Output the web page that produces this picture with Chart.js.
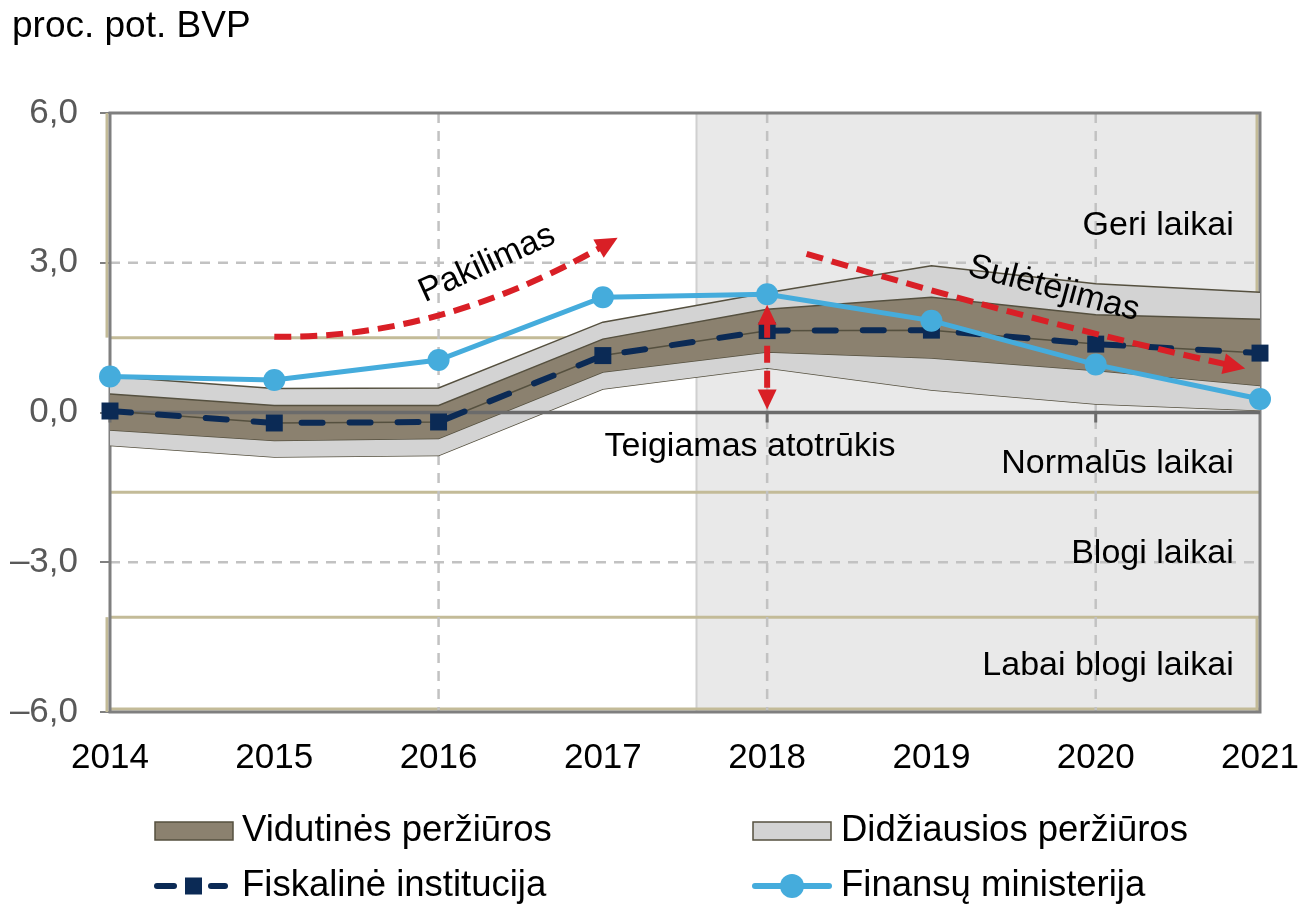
<!DOCTYPE html>
<html><head><meta charset="utf-8">
<script src="https://cdn.jsdelivr.net/npm/chart.js@4/dist/chart.umd.min.js"></script>
<style>html,body{margin:0;padding:0;background:#fff;} canvas{display:block;}</style>
</head><body>
<canvas id="c" width="1299" height="906"></canvas>
<script>
// ---- data ----
const years = [2014, 2015, 2016, 2017, 2018, 2019, 2020, 2021];
const finansuMinisterija   = [0.72, 0.65, 1.05, 2.31, 2.37, 1.84, 0.96, 0.27];
const fiskalineInstitucija = [0.03, -0.21, -0.19, 1.14, 1.64, 1.65, 1.37, 1.19];
const vidutinesVirsus      = [0.37, 0.14, 0.14, 1.47, 2.07, 2.31, 1.96, 1.87];
const vidutinesApacia      = [-0.35, -0.56, -0.52, 0.81, 1.21, 1.09, 0.84, 0.54];
const didziausiosVirsus    = [0.72, 0.48, 0.49, 1.81, 2.40, 2.94, 2.58, 2.41];
const didziausiosApacia    = [-0.66, -0.89, -0.86, 0.47, 0.89, 0.45, 0.17, 0.04];
const yTicks = [-6, -3, 0, 3, 6];
const dashedGridY = [-3, 3];
const dashedGridYears = [2016, 2018, 2020];
const zeroTickYears = [2014, 2016, 2018, 2020];
const zoneBounds = [1.5, -1.6, -4.1];
const forecastStart = 2017.57;
// annotations in data units
const risePath = [[2015.0, 1.52], [2016.0, 1.46], [2017.09, 3.5]];
const slowPath = [[2018.24, 3.18], [2019.57, 1.85], [2020.91, 0.88]];
const gapArrow = {x: 2018, from: 2.16, to: 0.06};
const notes = [
  {text: 'Geri laikai', x: 2020.84, y: 3.74, align: 'right', rot: 0},
  {text: 'Normalūs laikai', x: 2020.84, y: -1.02, align: 'right', rot: 0},
  {text: 'Blogi laikai', x: 2020.84, y: -2.82, align: 'right', rot: 0},
  {text: 'Labai blogi laikai', x: 2020.84, y: -5.08, align: 'right', rot: 0},
  {text: 'Teigiamas atotrūkis', x: 2017.01, y: -0.68, align: 'left', rot: 0},
  {text: 'Pakilimas', x: 2016.295, y: 2.98, align: 'center', rot: -24.5},
  {text: 'Sulėtėjimas', x: 2019.745, y: 2.48, align: 'center', rot: 15}
];
const title = 'proc. pot. BVP';

// ---- style ----
const FONT = '"Liberation Sans", Arial, sans-serif';
const RED = '#d91f26';
const NAVY = '#0b2a55';
const BLUE = '#45acdc';
const BROWN = '#8b816f';
const LGRAY = '#d3d3d3';
const EDGE = '#55503f';

const pts = a => years.map((x, i) => ({x, y: a[i]}));

const datasets = [
  {label: 'Finansų ministerija', data: pts(finansuMinisterija), borderColor: BLUE, backgroundColor: BLUE,
   borderWidth: 5, pointRadius: 11, pointHoverRadius: 11, pointBorderWidth: 0, clip: false, fill: false},
  {label: 'Fiskalinė institucija', data: pts(fiskalineInstitucija), borderColor: NAVY, backgroundColor: NAVY,
   borderWidth: 6, borderDash: [21, 27], borderCapStyle: 'round', pointStyle: 'rect', pointRadius: 12,
   pointHoverRadius: 12, pointBorderWidth: 0, clip: false, fill: false},
  {label: 'mediana', data: pts(fiskalineInstitucija), borderColor: EDGE, borderWidth: 1.5, pointRadius: 0, fill: false},
  {label: 'nulis', data: [{x: years[0], y: 0}, {x: years[years.length - 1], y: 0}], borderColor: '#6b6b6b',
   borderWidth: 3.5, pointRadius: 0, fill: false},
  {label: 'Vidutinės peržiūros', data: pts(vidutinesVirsus), borderColor: EDGE, borderWidth: 1.5, pointRadius: 0,
   backgroundColor: BROWN, fill: 5},
  {label: 'vid-apacia', data: pts(vidutinesApacia), borderColor: EDGE, borderWidth: 1.5, pointRadius: 0, fill: false},
  {label: 'Didžiausios peržiūros', data: pts(didziausiosVirsus), borderColor: EDGE, borderWidth: 1.5, pointRadius: 0,
   backgroundColor: LGRAY, fill: 7},
  {label: 'did-apacia', data: pts(didziausiosApacia), borderColor: EDGE, borderWidth: 1.5, pointRadius: 0, fill: false}
];

function line(ctx, x1, y1, x2, y2) { ctx.beginPath(); ctx.moveTo(x1, y1); ctx.lineTo(x2, y2); ctx.stroke(); }
function head(ctx, tip, ang, L, W) {
  const c = Math.cos(ang), s = Math.sin(ang);
  ctx.beginPath();
  ctx.moveTo(tip.x, tip.y);
  ctx.lineTo(tip.x - L * c + W / 2 * s, tip.y - L * s - W / 2 * c);
  ctx.lineTo(tip.x - L * c - W / 2 * s, tip.y - L * s + W / 2 * c);
  ctx.closePath(); ctx.fill();
}

const deco = {
  id: 'deco',
  beforeDatasetsDraw(chart) {
    const {ctx, chartArea: a, scales: {x, y}} = chart;
    ctx.save();
    const fx = x.getPixelForValue(forecastStart);
    ctx.fillStyle = '#e9e9e9';
    ctx.fillRect(fx, a.top, a.right - fx, a.bottom - a.top);
    ctx.strokeStyle = '#d0d0d0'; ctx.lineWidth = 2;
    line(ctx, fx, a.top, fx, a.bottom);
    // zone lines
    ctx.strokeStyle = '#c3bb98'; ctx.lineWidth = 3;
    zoneBounds.forEach(v => { const py = y.getPixelForValue(v); line(ctx, a.left, py, a.right, py); });
    const yT = y.getPixelForValue(zoneBounds[0]);
    const yB = y.getPixelForValue(zoneBounds[2]);
    line(ctx, a.left - 3, a.top, a.left - 3, yT);
    line(ctx, a.left - 3, yB, a.left - 3, a.bottom);
    line(ctx, a.right - 3, a.top, a.right - 3, yT);
    line(ctx, a.right - 3, yB, a.right - 3, a.bottom);
    line(ctx, a.left, a.bottom - 3, a.right, a.bottom - 3);
    // dashed grid
    ctx.strokeStyle = '#c2c2c2'; ctx.lineWidth = 2.5; ctx.setLineDash([10, 8]);
    dashedGridY.forEach(v => { const py = y.getPixelForValue(v); line(ctx, a.left, py, a.right, py); });
    dashedGridYears.forEach(v => { const px = x.getPixelForValue(v); line(ctx, px, a.top, px, a.bottom); });
    ctx.setLineDash([]);
    // frame
    ctx.strokeStyle = '#7f7f7f'; ctx.lineWidth = 3;
    ctx.strokeRect(a.left, a.top, a.right - a.left, a.bottom - a.top);
    ctx.restore();
  },
  afterDatasetDraw(chart, args) {
    if (args.index !== 3) return;
    const {ctx, scales: {x, y}} = chart;
    const y0 = y.getPixelForValue(0);
    ctx.save();
    ctx.strokeStyle = '#6b6b6b'; ctx.lineWidth = 3;
    zeroTickYears.forEach(v => { const px = x.getPixelForValue(v); line(ctx, px, y0, px, y0 + 10); });
    ctx.restore();
  },
  afterDatasetsDraw(chart) {
    const {ctx, scales: {x, y}} = chart;
    const P = p => ({x: x.getPixelForValue(p[0]), y: y.getPixelForValue(p[1])});
    ctx.save();
    ctx.strokeStyle = RED; ctx.fillStyle = RED; ctx.lineWidth = 6;
    [risePath, slowPath].forEach(path => {
      const p0 = P(path[0]), c = P(path[1]), p2 = P(path[2]);
      const ang = Math.atan2(p2.y - c.y, p2.x - c.x);
      const e = {x: p2.x - Math.cos(ang) * 16, y: p2.y - Math.sin(ang) * 16};
      ctx.setLineDash([17, 9]);
      ctx.beginPath(); ctx.moveTo(p0.x, p0.y); ctx.quadraticCurveTo(c.x, c.y, e.x, e.y); ctx.stroke();
      ctx.setLineDash([]);
      head(ctx, p2, ang, 22, 21);
    });
    const gx = x.getPixelForValue(gapArrow.x);
    const gt = y.getPixelForValue(gapArrow.from), gb = y.getPixelForValue(gapArrow.to);
    ctx.setLineDash([17, 8]);
    line(ctx, gx, gt + 16, gx, gb - 16);
    ctx.setLineDash([]);
    head(ctx, {x: gx, y: gt}, -Math.PI / 2, 20, 19);
    head(ctx, {x: gx, y: gb}, Math.PI / 2, 20, 19);
    // notes
    ctx.fillStyle = '#000';
    ctx.font = '34px ' + FONT;
    ctx.textBaseline = 'middle';
    notes.forEach(n => {
      ctx.save();
      ctx.translate(x.getPixelForValue(n.x), y.getPixelForValue(n.y));
      ctx.rotate(n.rot * Math.PI / 180);
      ctx.textAlign = n.align;
      ctx.fillText(n.text, 0, 0);
      ctx.restore();
    });
    ctx.restore();
  },
  afterDraw(chart) {
    const {ctx} = chart;
    ctx.save();
    ctx.fillStyle = '#000';
    ctx.font = '37px ' + FONT;
    ctx.textBaseline = 'alphabetic'; ctx.textAlign = 'left';
    ctx.fillText(title, 12, 37);
    // legend
    ctx.font = '36.5px ' + FONT;
    ctx.textBaseline = 'middle';
    const r1 = 831, r2 = 886;
    ctx.lineWidth = 1.5; ctx.strokeStyle = EDGE;
    ctx.fillStyle = BROWN; ctx.fillRect(155, 822, 78, 18); ctx.strokeRect(155, 822, 78, 18);
    ctx.fillStyle = LGRAY; ctx.fillRect(753, 822, 78, 18); ctx.strokeRect(753, 822, 78, 18);
    ctx.fillStyle = '#000';
    ctx.fillText(datasets[4].label, 242, r1);
    ctx.fillText(datasets[6].label, 841, r1);
    // fiskaline
    ctx.strokeStyle = NAVY; ctx.lineWidth = 6; ctx.lineCap = 'round';
    line(ctx, 157, r2, 174, r2); line(ctx, 211, r2, 225, r2);
    ctx.fillStyle = NAVY; ctx.fillRect(185, r2 - 8.5, 17, 17);
    // finansu
    ctx.strokeStyle = BLUE; line(ctx, 755, r2, 829, r2);
    ctx.fillStyle = BLUE; ctx.beginPath(); ctx.arc(792, r2, 12, 0, Math.PI * 2); ctx.fill();
    ctx.fillStyle = '#000';
    ctx.fillText(datasets[1].label, 242, r2);
    ctx.fillText(datasets[0].label, 841, r2);
    ctx.restore();
  }
};

new Chart(document.getElementById('c'), {
  type: 'line',
  data: {datasets},
  options: {
    responsive: false, animation: false, devicePixelRatio: 1,
    layout: {padding: {top: 113, right: 39, bottom: 114, left: 0}},
    plugins: {legend: {display: false}, tooltip: {enabled: false}},
    elements: {line: {tension: 0}},
    scales: {
      x: {type: 'linear', min: years[0], max: years[years.length - 1],
        afterBuildTicks: s => { s.ticks = years.map(v => ({value: v})); },
        ticks: {callback: v => String(v), font: {family: FONT, size: 35}, color: '#000', padding: 17,
          maxRotation: 0, autoSkip: false},
        grid: {display: false}, border: {display: false},
        afterFit: s => { s.height = 80; s.paddingLeft = 0; s.paddingRight = 0; }},
      y: {type: 'linear', min: -6, max: 6,
        afterBuildTicks: s => { s.ticks = yTicks.map(v => ({value: v})); },
        ticks: {callback: v => v.toFixed(1).replace('.', ',').replace('-', '\u2013'),
          font: {family: FONT, size: 35}, color: '#595959', padding: 22},
        grid: {drawOnChartArea: false, drawTicks: true, tickLength: 10, color: '#808080', lineWidth: 2},
        border: {display: false},
        afterFit: s => { s.width = 110; s.paddingTop = 0; s.paddingBottom = 0; }}
    }
  },
  plugins: [deco]
});
</script>
</body></html>
